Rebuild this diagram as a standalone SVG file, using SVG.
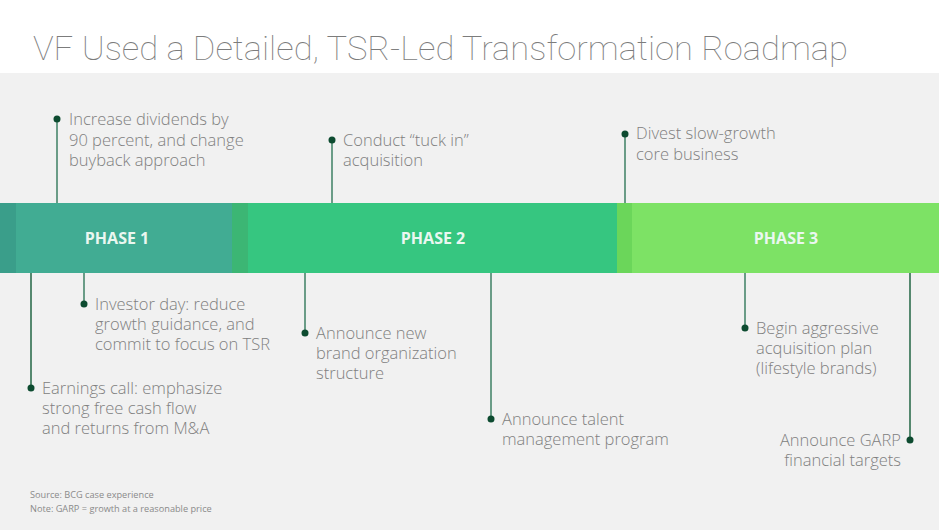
<svg xmlns="http://www.w3.org/2000/svg" width="939" height="530" viewBox="0 0 939 530">
<style>
.title{font-family:Roboto,"Liberation Sans",sans-serif;font-weight:100;font-size:33px;fill:#7c7c7c}
.t{font-family:"Open Sans","Liberation Sans",sans-serif;font-weight:300;font-size:16.5px;fill:#808080}
.ph{font-family:"Open Sans","Liberation Sans",sans-serif;font-weight:700;font-size:16px;fill:#eaf7f0;text-anchor:middle}
.fn{font-family:"Open Sans","Liberation Sans",sans-serif;font-weight:400;font-size:9.2px;fill:#8a8a8a}
.ln{stroke:#6a9c87;stroke-width:2;fill:none}
.lnd{stroke:#2f6e4f;stroke-width:1.6;fill:none}
.dot{fill:#0d4b30}
</style>
<rect x="0" y="0" width="939" height="530" fill="#ffffff"/>
<rect x="0" y="73" width="939" height="457" fill="#f1f1f1"/>
<text class="title" x="33" y="60" textLength="815" lengthAdjust="spacingAndGlyphs">VF Used a Detailed, TSR-Led Transformation Roadmap</text>

<g id="connectors">
<line class="ln" x1="57" y1="119" x2="57" y2="203"/>
<line class="ln" x1="332" y1="140" x2="332" y2="203"/>
<line class="ln" x1="625" y1="134" x2="625" y2="203"/>
<line class="lnd" x1="31" y1="273" x2="31" y2="388"/>
<line class="ln" x1="84" y1="273" x2="84" y2="304"/>
<line class="ln" x1="305" y1="273" x2="305" y2="333"/>
<line class="ln" x1="491" y1="273" x2="491" y2="419"/>
<line class="ln" x1="745" y1="273" x2="745" y2="328"/>
<line class="lnd" x1="910" y1="273" x2="910" y2="440"/>
</g>

<g id="bar">
<rect x="0" y="203" width="16" height="70" fill="#3a9e8a"/>
<rect x="16" y="203" width="216" height="70" fill="#41ac93"/>
<rect x="232" y="203" width="16" height="70" fill="#3cb674"/>
<rect x="248" y="203" width="369" height="70" fill="#36c680"/>
<rect x="617" y="203" width="15" height="70" fill="#6bd65a"/>
<rect x="632" y="203" width="307" height="70" fill="#7de265"/>
</g>
<g id="phase1"><text class="ph" x="117" y="244">PHASE 1</text></g>
<g id="phase2"><text class="ph" x="433" y="244">PHASE 2</text></g>
<g id="phase3"><text class="ph" x="786" y="244">PHASE 3</text></g>

<g id="e-dividends">
<circle class="dot" cx="57" cy="119" r="3.5"/>
<text class="t" x="69" y="125">Increase dividends by</text>
<text class="t" x="69" y="146">90 percent, and change</text>
<text class="t" x="69" y="166">buyback approach</text>
</g>
<g id="e-tuckin">
<circle class="dot" cx="332" cy="140" r="3.5"/>
<text class="t" x="343" y="146">Conduct “tuck in”</text>
<text class="t" x="343" y="166">acquisition</text>
</g>
<g id="e-divest">
<circle class="dot" cx="625" cy="134" r="3.5"/>
<text class="t" x="636" y="139">Divest slow-growth</text>
<text class="t" x="636" y="160">core business</text>
</g>
<g id="e-earnings">
<circle class="dot" cx="31" cy="388" r="3.5"/>
<text class="t" x="42" y="394">Earnings call: emphasize</text>
<text class="t" x="42" y="414">strong free cash flow</text>
<text class="t" x="42" y="434">and returns from M&amp;A</text>
</g>
<g id="e-investor">
<circle class="dot" cx="84" cy="304" r="3.5"/>
<text class="t" x="95" y="310">Investor day: reduce</text>
<text class="t" x="95" y="330">growth guidance, and</text>
<text class="t" x="95" y="350">commit to focus on TSR</text>
</g>
<g id="e-brand">
<circle class="dot" cx="305" cy="333" r="3.5"/>
<text class="t" x="316" y="339">Announce new</text>
<text class="t" x="316" y="359">brand organization</text>
<text class="t" x="316" y="379">structure</text>
</g>
<g id="e-talent">
<circle class="dot" cx="491" cy="419" r="3.5"/>
<text class="t" x="502" y="425">Announce talent</text>
<text class="t" x="502" y="445">management program</text>
</g>
<g id="e-acquisition">
<circle class="dot" cx="745" cy="328" r="3.5"/>
<text class="t" x="756" y="334">Begin aggressive</text>
<text class="t" x="756" y="354">acquisition plan</text>
<text class="t" x="756" y="374">(lifestyle brands)</text>
</g>
<g id="e-garp">
<circle class="dot" cx="910" cy="440" r="3.5"/>
<text class="t" x="901" y="446" text-anchor="end">Announce GARP</text>
<text class="t" x="901" y="466" text-anchor="end">financial targets</text>
</g>

<g id="footnote">
<text class="fn" x="30" y="498">Source: BCG case experience</text>
<text class="fn" x="30" y="512">Note: GARP = growth at a reasonable price</text>
</g>
</svg>
